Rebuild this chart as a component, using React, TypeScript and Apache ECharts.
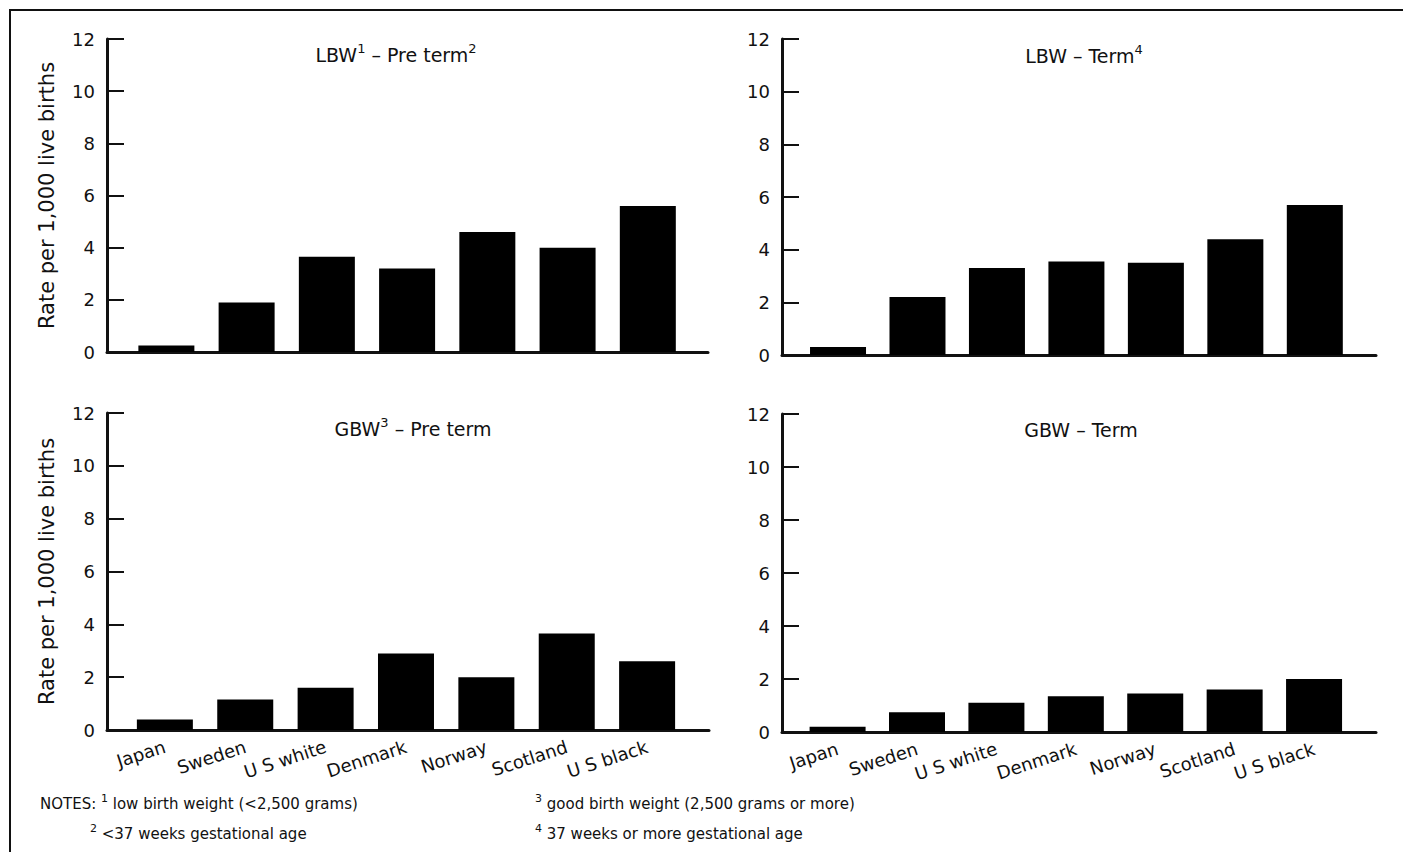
import React, { useEffect, useRef } from "react";
import * as echarts from "echarts";

const categories = ["Japan", "Sweden", "U S white", "Denmark", "Norway", "Scotland", "U S black"];
const lbwPreterm = [0.25, 1.9, 3.65, 3.2, 4.6, 4.0, 5.6];
const lbwTerm = [0.3, 2.2, 3.3, 3.55, 3.5, 4.4, 5.7];
const gbwPreterm = [0.4, 1.15, 1.6, 2.9, 2.0, 3.65, 2.6];
const gbwTerm = [0.2, 0.75, 1.1, 1.35, 1.45, 1.6, 2.0];
const yTicks = [0, 2, 4, 6, 8, 10, 12];
const yTitle = "Rate per 1,000 live births";

const FONT = "DejaVu Sans";
const INK = "#111";

const panels = [
  { values: lbwPreterm, grid: { left: 107, top: 39, width: 601, height: 313 }, xMin: -0.74, xMax: 6.75, labels: false, yName: true },
  { values: lbwTerm, grid: { left: 782, top: 39, width: 594, height: 316 }, xMin: -0.705, xMax: 6.77, labels: false, yName: false },
  { values: gbwPreterm, grid: { left: 107, top: 413, width: 602, height: 317 }, xMin: -0.72, xMax: 6.77, labels: true, yName: true },
  { values: gbwTerm, grid: { left: 782, top: 414, width: 594, height: 318 }, xMin: -0.70, xMax: 6.78, labels: true, yName: false },
];

const titleRich = {
  n: { fontSize: 19, lineHeight: 23, verticalAlign: "bottom", fontFamily: FONT, fill: INK },
  s: { fontSize: 13, lineHeight: 13, verticalAlign: "top", fontFamily: FONT, fill: INK },
};
const noteRich = {
  n: { fontSize: 15, lineHeight: 19, verticalAlign: "bottom", fontFamily: FONT, fill: INK },
  s: { fontSize: 11, lineHeight: 11, verticalAlign: "top", fontFamily: FONT, fill: INK },
};

const titles = [
  { text: "{n|LBW}{s|1}{n| – Pre term}{s|2}", x: 396, y: 53 },
  { text: "{n|LBW – Term}{s|4}", x: 1084, y: 54 },
  { text: "{n|GBW}{s|3}{n| – Pre term}", x: 413, y: 427 },
  { text: "{n|GBW – Term}", x: 1081, y: 428 },
];

const notes = [
  { text: "{n|NOTES: }{s|1}{n| low birth weight (<2,500 grams)}", x: 40, y: 802 },
  { text: "{s|2}{n| <37 weeks gestational age}", x: 90, y: 832 },
  { text: "{s|3}{n| good birth weight (2,500 grams or more)}", x: 535, y: 802 },
  { text: "{s|4}{n| 37 weeks or more gestational age}", x: 535, y: 832 },
];

export default function App() {
  const ref = useRef<HTMLDivElement>(null);
  useEffect(() => {
    if (!ref.current) return;
    const chart = echarts.init(ref.current, undefined, { renderer: "svg" });
    const grids = panels.map((p) => ({ ...p.grid, containLabel: false }));
    const xAxes = panels.map((p, i) => ({
      type: "value",
      gridIndex: i,
      min: p.xMin,
      max: p.xMax,
      splitLine: { show: false },
      axisTick: { show: false },
      axisLine: { show: true, onZero: false, lineStyle: { color: INK, width: 3 } },
      axisLabel: p.labels
        ? {
            show: true,
            customValues: categories.map((_, k) => k),
            formatter: (v: number) => categories[Math.round(v)] ?? "",
            rotate: 18,
            margin: 16,
            fontSize: 18,
            fontFamily: FONT,
            color: INK,
          }
        : { show: false },
    }));
    const yAxes = panels.map((p, i) => ({
      type: "value",
      gridIndex: i,
      min: 0,
      max: 12,
      interval: 2,
      splitLine: { show: false },
      axisLine: { show: true, onZero: false, lineStyle: { color: INK, width: 3 } },
      axisTick: { show: true, inside: true, length: 17, lineStyle: { color: INK, width: 2 } },
      axisLabel: {
        margin: 12,
        fontSize: 18,
        fontFamily: FONT,
        color: INK,
        formatter: (v: number) => (yTicks.includes(v) ? String(v) : ""),
      },
      name: p.yName ? yTitle : "",
      nameLocation: "middle",
      nameGap: 50,
      nameTextStyle: { fontSize: 21, fontFamily: FONT, color: INK },
    }));
    const series = panels.map((p, i) => ({
      type: "bar",
      xAxisIndex: i,
      yAxisIndex: i,
      barWidth: 56,
      itemStyle: { color: "#000" },
      data: p.values.map((v, k) => [k, v]),
    }));
    const graphic = [
      {
        type: "polyline",
        shape: { points: [[10, 852], [10, 10], [1403, 10]] },
        style: { stroke: INK, lineWidth: 2, fill: "none" },
      },
      ...titles.map((t) => ({
        type: "text",
        x: t.x,
        y: t.y,
        style: { text: t.text, rich: titleRich, align: "center", verticalAlign: "middle" },
      })),
      ...notes.map((t) => ({
        type: "text",
        x: t.x,
        y: t.y,
        style: { text: t.text, rich: noteRich, align: "left", verticalAlign: "middle" },
      })),
    ];
    chart.setOption({
      animation: false,
      backgroundColor: "#fff",
      grid: grids,
      xAxis: xAxes,
      yAxis: yAxes,
      series,
      graphic,
    });
    return () => chart.dispose();
  }, []);
  return (
    <div
      ref={ref}
      style={{ position: "absolute", left: 0, top: 0, width: 1403, height: 867 }}
    />
  );
}
